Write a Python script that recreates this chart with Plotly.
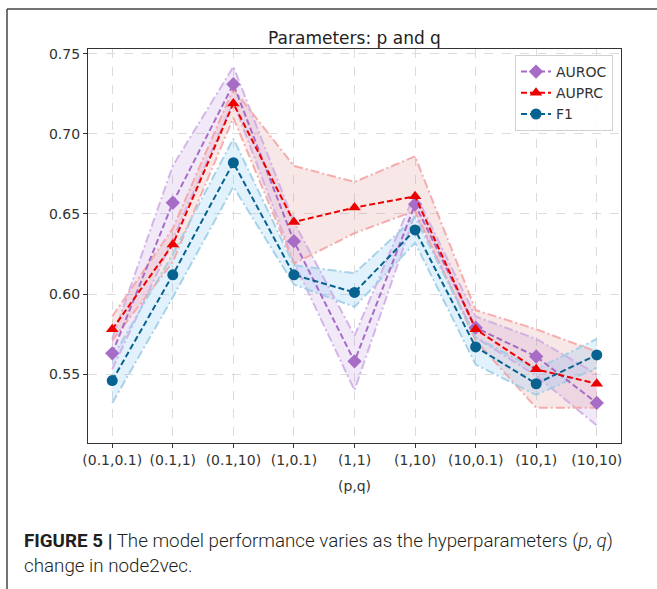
import plotly.graph_objects as go

# ---------------- data ----------------
categories = ["(0.1,0.1)", "(0.1,1)", "(0.1,10)", "(1,0.1)", "(1,1)",
              "(1,10)", "(10,0.1)", "(10,1)", "(10,10)"]

auroc = [0.563, 0.657, 0.731, 0.633, 0.558, 0.656, 0.579, 0.561, 0.532]
auroc_hi = [0.572, 0.680, 0.742, 0.645, 0.574, 0.663, 0.586, 0.572, 0.550]
auroc_lo = [0.553, 0.634, 0.720, 0.620, 0.540, 0.650, 0.573, 0.549, 0.518]

auprc = [0.578, 0.631, 0.719, 0.645, 0.654, 0.661, 0.578, 0.553, 0.544]
auprc_hi = [0.586, 0.641, 0.728, 0.680, 0.670, 0.686, 0.590, 0.578, 0.564]
auprc_lo = [0.571, 0.620, 0.710, 0.619, 0.638, 0.652, 0.571, 0.529, 0.529]

f1 = [0.546, 0.612, 0.682, 0.612, 0.601, 0.640, 0.567, 0.544, 0.562]
f1_hi = [0.560, 0.625, 0.697, 0.618, 0.613, 0.648, 0.573, 0.553, 0.572]
f1_lo = [0.532, 0.598, 0.667, 0.606, 0.592, 0.632, 0.556, 0.537, 0.554]

y_ticks = [0.55, 0.60, 0.65, 0.70, 0.75]

# ---------------- layout constants ----------------
W, H = 657, 589
ML, MR, MT, MB = 88, 36, 49, 146
PW, PH = W - ML - MR, H - MT - MB


def px_x(px):
    return (px - ML) / PW


def px_y(py):
    return (H - MB - py) / PH


xs = list(range(len(categories)))
fig = go.Figure()

series = [
    ("AUROC", auroc, auroc_hi, auroc_lo, "#a66cc6", "diamond", 11,
     "rgba(170,110,205,0.15)", "rgba(205,170,228,0.85)"),
    ("AUPRC", auprc, auprc_hi, auprc_lo, "#ee0000", "triangle-up", 11,
     "rgba(215,120,120,0.18)", "rgba(245,160,160,0.85)"),
    ("F1", f1, f1_hi, f1_lo, "#07628f", "circle", 11,
     "rgba(135,200,245,0.24)", "rgba(160,205,228,0.9)"),
]

# fills
for name, v, hi, lo, col, sym, ms, fillc, edgec in series:
    fig.add_trace(go.Scatter(
        x=xs + xs[::-1], y=hi + lo[::-1], mode="lines", fill="toself",
        fillcolor=fillc, line=dict(width=0), hoverinfo="skip", showlegend=False))
# band edges
for name, v, hi, lo, col, sym, ms, fillc, edgec in series:
    for arr in (hi, lo):
        fig.add_trace(go.Scatter(
            x=xs, y=arr, mode="lines",
            line=dict(color=edgec, width=2, dash="9px,3px,2px,3px"),
            hoverinfo="skip", showlegend=False))
# main lines
for name, v, hi, lo, col, sym, ms, fillc, edgec in series:
    fig.add_trace(go.Scatter(
        x=xs, y=v, mode="lines+markers", name=name,
        line=dict(color=col, width=2, dash="6px,3px"),
        marker=dict(color=col, symbol=sym, size=ms, line=dict(width=0))))

axis_font = dict(family="DejaVu Sans", size=14, color="#333333")

fig.update_layout(
    width=W, height=H,
    margin=dict(l=ML, r=MR, t=MT, b=MB),
    paper_bgcolor="white", plot_bgcolor="white",
    title=dict(text="Parameters: p and q", x=0.5, xref="paper",
               y=1 - 38 / H, yref="container", yanchor="middle", xanchor="center",
               font=dict(family="DejaVu Sans", size=17, color="#222222")),
    xaxis=dict(range=[-0.4, 8.4], tickmode="array", tickvals=xs, ticktext=categories,
               showgrid=True, gridcolor="#dcdcdc", griddash="dash", gridwidth=1,
               zeroline=False, showline=True, linecolor="#333333", linewidth=1.3,
               mirror=True, ticks="outside", ticklen=4, tickcolor="#333333",
               tickfont=axis_font,
               title=dict(text="(p,q)", font=axis_font, standoff=14)),
    yaxis=dict(range=[0.507, 0.753], tickmode="array", tickvals=y_ticks,
               ticktext=[f"{t:.2f}" for t in y_ticks],
               showgrid=True, gridcolor="#dcdcdc", griddash="dash", gridwidth=1,
               zeroline=False, showline=True, linecolor="#333333", linewidth=1.3,
               mirror=True, ticks="outside", ticklen=4, tickcolor="#333333",
               tickfont=axis_font),
    legend=dict(x=px_x(613), y=px_y(55), xanchor="right", yanchor="top",
                bgcolor="rgba(255,255,255,0.85)", bordercolor="#d0d0d0", borderwidth=1,
                font=dict(family="DejaVu Sans", size=14, color="#333333"),
                itemwidth=30, tracegroupgap=0),
    showlegend=True,
)

# outer figure frame (top and left)
fig.add_shape(type="line", xref="paper", yref="paper",
              x0=px_x(7), x1=px_x(W + 5), y0=px_y(9), y1=px_y(9),
              line=dict(color="#444444", width=1.5))
fig.add_shape(type="line", xref="paper", yref="paper",
              x0=px_x(7), x1=px_x(7), y0=px_y(9), y1=px_y(H + 5),
              line=dict(color="#444444", width=1.5))

# caption
cap_font = dict(family="Roboto, sans-serif", size=18.8, color="#231f20", weight=300)
fig.add_annotation(
    text="<b>FIGURE 5 |</b> The model performance varies as the hyperparameters (<i>p</i>, <i>q</i>)",
    xref="paper", yref="paper", x=px_x(22), y=px_y(541), xanchor="left", yanchor="middle",
    showarrow=False, font=cap_font)
fig.add_annotation(
    text="change in node2vec.",
    xref="paper", yref="paper", x=px_x(22), y=px_y(566), xanchor="left", yanchor="middle",
    showarrow=False, font=cap_font)

fig.write_html("out.html")
